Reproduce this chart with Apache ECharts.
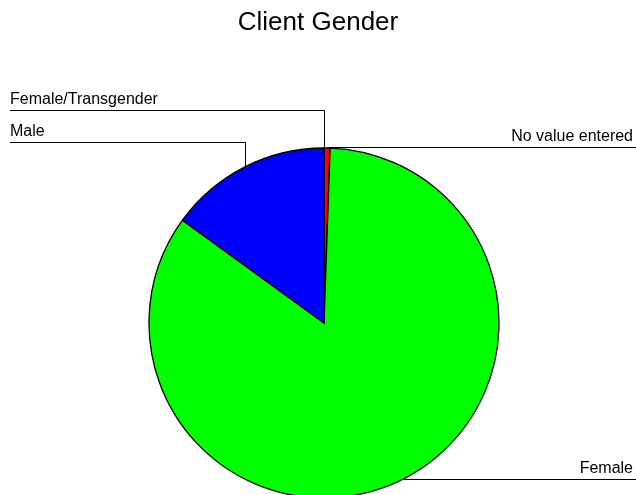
<!DOCTYPE html>
<html>
<head>
<meta charset="utf-8">
<script src="https://cdn.jsdelivr.net/npm/echarts@6/dist/echarts.min.js"></script>
<style>
  html, body { margin: 0; padding: 0; background: #fff; }
  #chart { width: 636px; height: 495px; }
</style>
</head>
<body>
<div id="chart"></div>
<script>
// slices in drawing order, clockwise from 12 o'clock
const genders = ['No value entered', 'Female', 'Male', 'Female/Transgender'];
const clients = [1, 152, 27, 0];
const sliceColors = ['#ff0000', '#00ff00', '#0000ff', '#ffff00'];

// where each label sits: left column rows or right side
const leftRows = { 'Female/Transgender': 110, 'Male': 142 };

const W = 636;
let myChart = echarts.init(document.getElementById('chart'), null, { renderer: 'canvas' });

myChart.setOption({
    backgroundColor: '#fff',
    animation: false,
    title: {
        text: 'Client Gender',
        left: 'center',
        top: 5,
        textStyle: {
            fontFamily: 'Liberation Sans, Arial, sans-serif',
            fontSize: 26,
            fontWeight: 'normal',
            color: '#000'
        }
    },
    series: [{
        type: 'pie',
        center: [324, 323],
        radius: 175,
        startAngle: 90,
        clockwise: true,
        avoidLabelOverlap: false,
        silent: true,
        data: genders.map((g, i) => ({
            name: g,
            value: clients[i],
            itemStyle: { color: sliceColors[i] }
        })),
        itemStyle: { borderColor: '#000', borderWidth: 1.3 },
        label: {
            show: true,
            formatter: '{b}',
            fontFamily: 'Liberation Sans, Arial, sans-serif',
            fontSize: 16,
            color: '#000'
        },
        labelLine: {
            show: true,
            length: 10,
            length2: 10,
            smooth: false,
            lineStyle: { color: '#000', width: 1 }
        },
        labelLayout: function (params) {
            const p = params.labelLinePoints[0];
            const name = genders[params.dataIndex];
            const ax = Math.round(p[0]) + 0.5;
            const ay = p[1];
            if (leftRows[name] != null) {
                const uy = leftRows[name] + 0.5;
                return {
                    x: 10, y: uy - 3,
                    align: 'left', verticalAlign: 'bottom',
                    labelLinePoints: [[ax, ay], [ax, uy], [10, uy]]
                };
            }
            const uy = Math.round(ay) - 0.5;
            return {
                x: W - 3, y: uy - 3,
                align: 'right', verticalAlign: 'bottom',
                labelLinePoints: [[p[0], uy], [W, uy]]
            };
        }
    }]
});
</script>
</body>
</html>
